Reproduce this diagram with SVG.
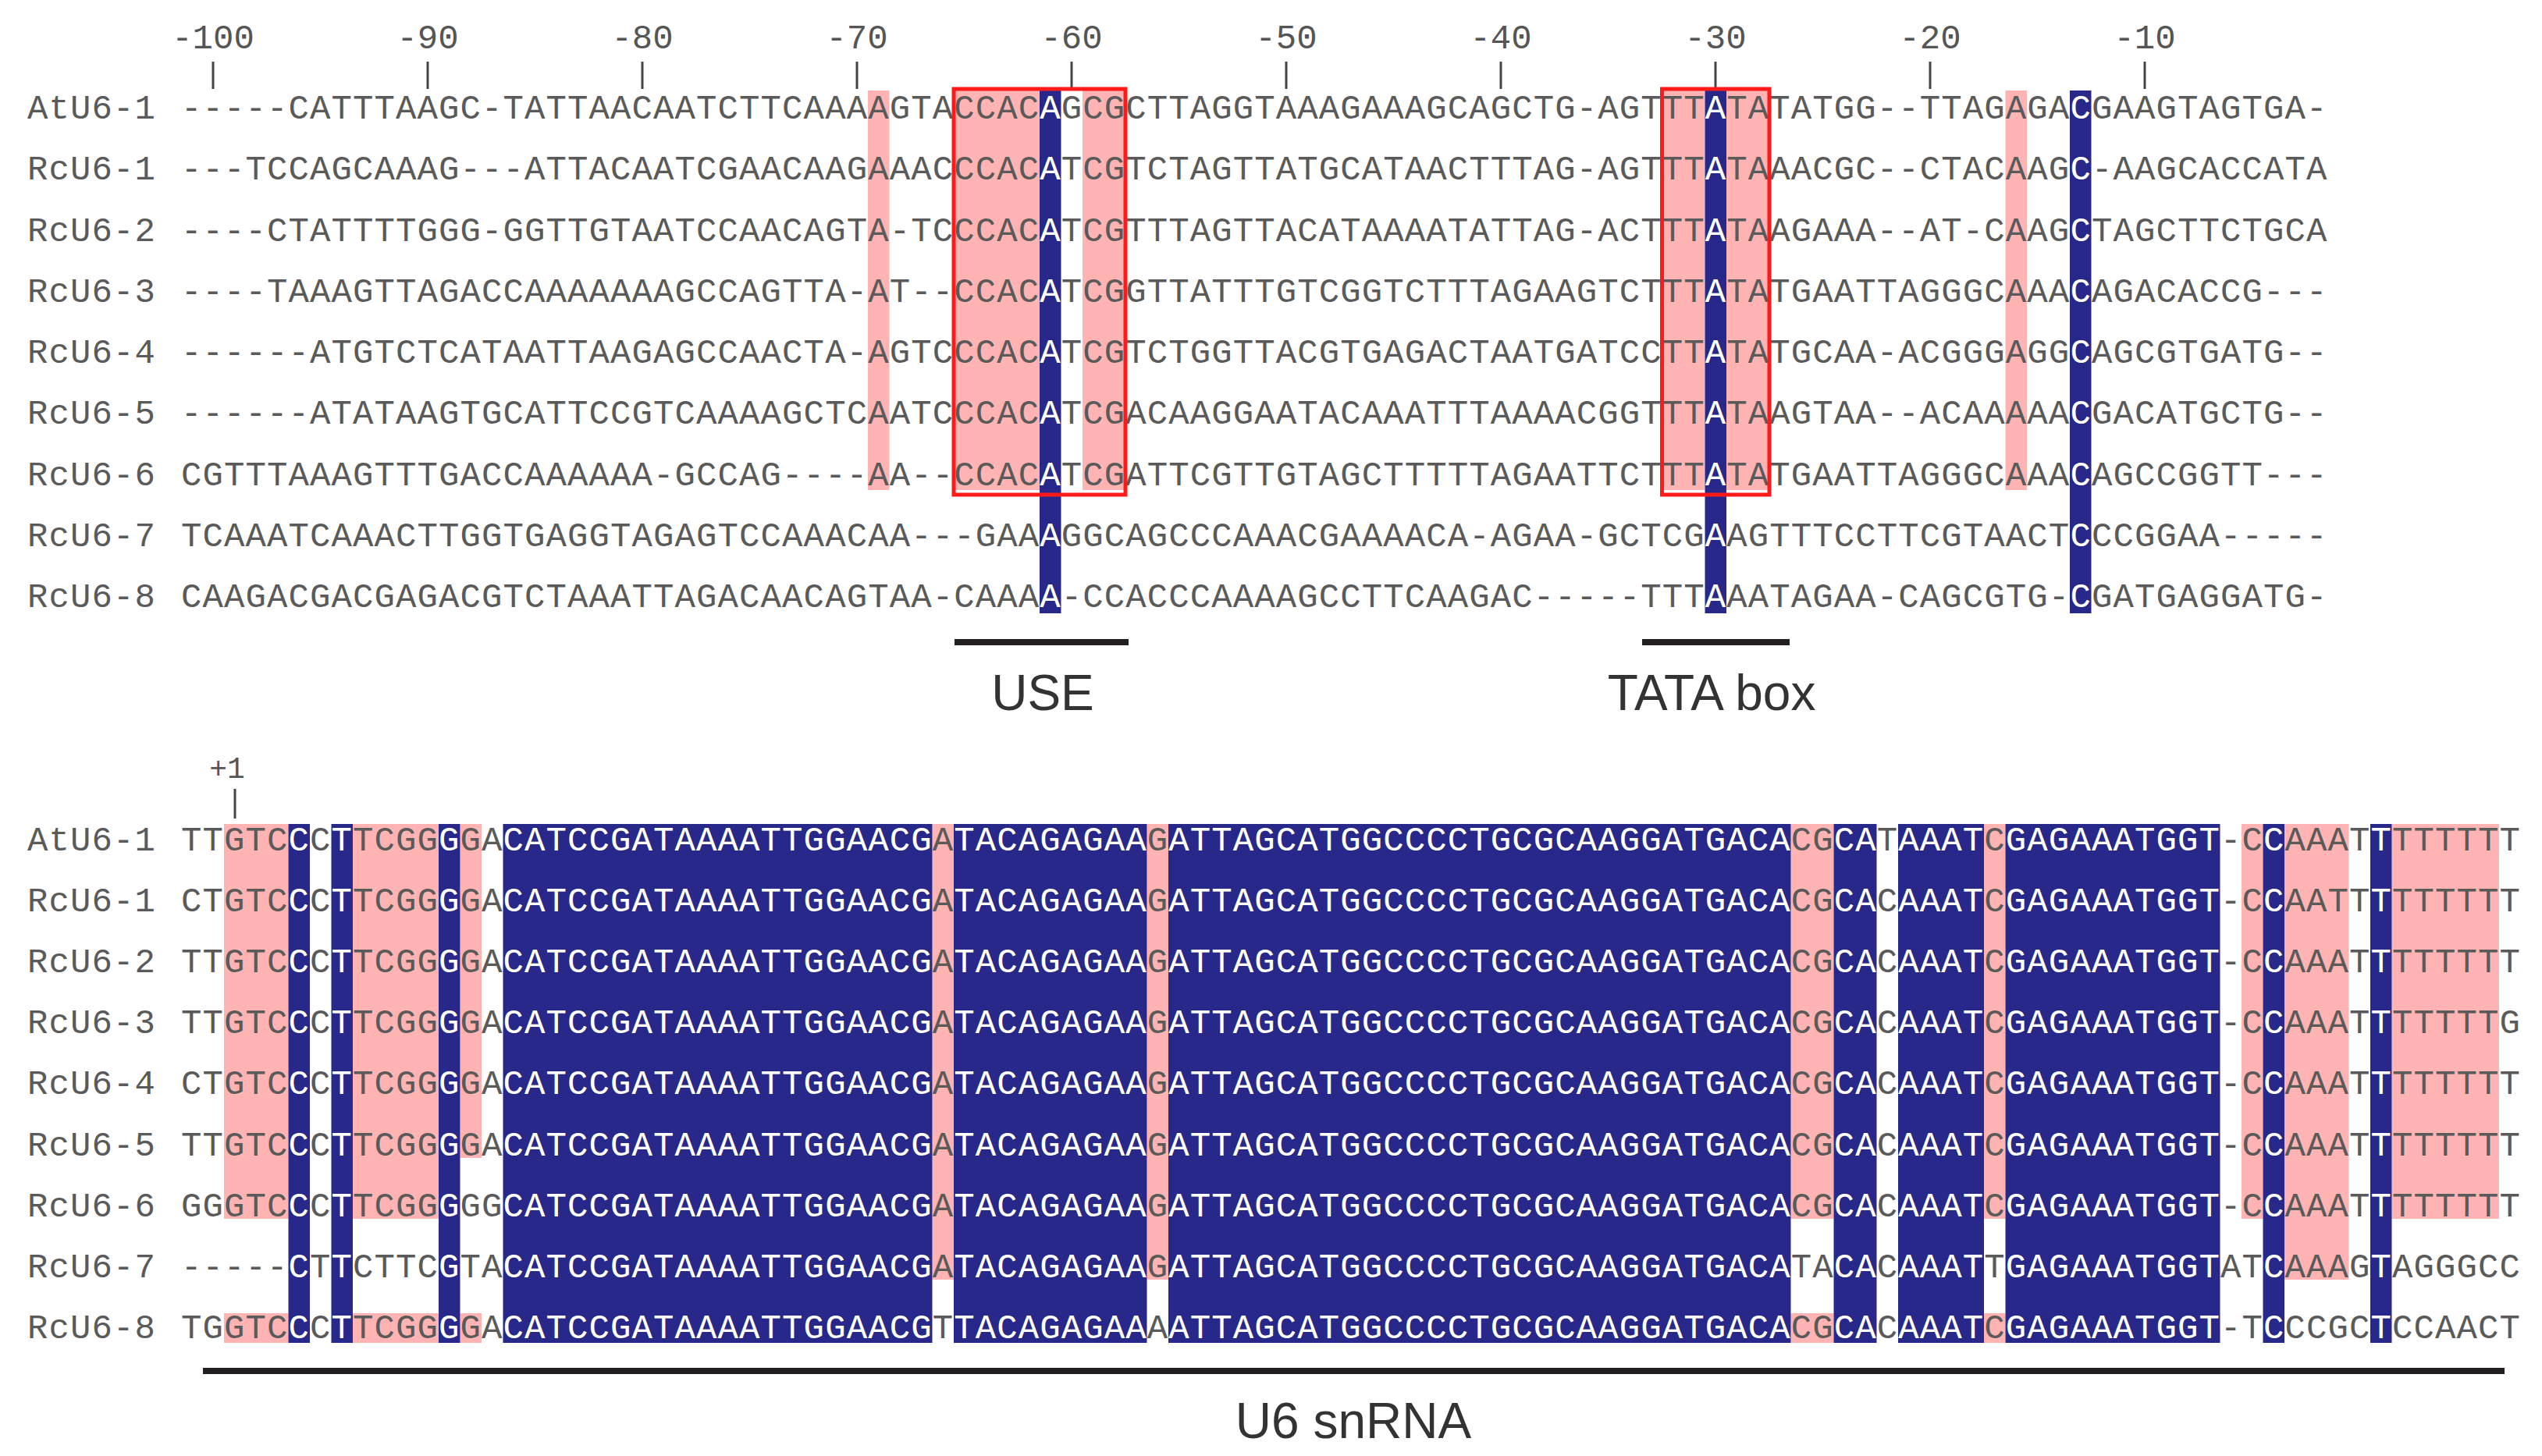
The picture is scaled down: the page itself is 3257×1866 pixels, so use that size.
<svg xmlns="http://www.w3.org/2000/svg" xmlns:xlink="http://www.w3.org/1999/xlink" width="3257" height="1866" viewBox="0 0 3257 1866">
<style>
.s{font-family:"Liberation Mono","DejaVu Sans Mono",monospace;font-size:44px;letter-spacing:1.1px}
.n{font-family:"Liberation Mono","DejaVu Sans Mono",monospace;font-size:44px;letter-spacing:1.1px}
.t{font-family:"Liberation Mono","DejaVu Sans Mono",monospace;font-size:44px;fill:#555;text-anchor:middle}
.lab{font-family:"Liberation Sans",Arial,sans-serif;font-size:64px;fill:#333;text-anchor:middle}
.pk{fill:#ffb3b3}
.tick{stroke:#444;stroke-width:3}
.bar{stroke:#231f20;stroke-width:8}
.box{fill:none;stroke:#ff1a1a;stroke-width:5}
</style>
<defs>
<clipPath id="cbTop">
<rect x="1332" y="116" width="27.5" height="670"/>
<rect x="2184.5" y="116" width="27.5" height="670"/>
<rect x="2652" y="116" width="27.5" height="670"/>
</clipPath>
<clipPath id="cbBot">
<rect x="369.5" y="1056" width="27.5" height="665"/>
<rect x="424.5" y="1056" width="27.5" height="665"/>
<rect x="562" y="1056" width="27.5" height="665"/>
<rect x="644.5" y="1056" width="550" height="665"/>
<rect x="1222" y="1056" width="247.5" height="665"/>
<rect x="1497" y="1056" width="797.5" height="665"/>
<rect x="2349.5" y="1056" width="55" height="665"/>
<rect x="2432" y="1056" width="110" height="665"/>
<rect x="2569.5" y="1056" width="275" height="665"/>
<rect x="2899.5" y="1056" width="27.5" height="665"/>
<rect x="3037" y="1056" width="27.5" height="665"/>
</clipPath>
</defs>
<rect width="3257" height="1866" fill="#fff"/>

<g id="scale-top">
<text class="t" x="273" y="62">-100</text><line class="tick" x1="273" y1="79" x2="273" y2="114"/>
<text class="t" x="548" y="62">-90</text><line class="tick" x1="548" y1="79" x2="548" y2="114"/>
<text class="t" x="823" y="62">-80</text><line class="tick" x1="823" y1="79" x2="823" y2="114"/>
<text class="t" x="1098" y="62">-70</text><line class="tick" x1="1098" y1="79" x2="1098" y2="114"/>
<text class="t" x="1373" y="62">-60</text><line class="tick" x1="1373" y1="79" x2="1373" y2="114"/>
<text class="t" x="1648" y="62">-50</text><line class="tick" x1="1648" y1="79" x2="1648" y2="114"/>
<text class="t" x="1923" y="62">-40</text><line class="tick" x1="1923" y1="79" x2="1923" y2="114"/>
<text class="t" x="2198" y="62">-30</text><line class="tick" x1="2198" y1="79" x2="2198" y2="114"/>
<text class="t" x="2473" y="62">-20</text><line class="tick" x1="2473" y1="79" x2="2473" y2="114"/>
<text class="t" x="2748" y="62">-10</text><line class="tick" x1="2748" y1="79" x2="2748" y2="114"/>
</g>

<g id="highlights-top">
<rect class="pk" x="1112" y="116" width="27.5" height="512"/>
<rect class="pk" x="1222" y="116" width="110" height="512"/>
<rect class="pk" x="1387" y="116" width="55" height="512"/>
<rect class="pk" x="2129.5" y="116" width="55" height="512"/>
<rect class="pk" x="2212" y="116" width="55" height="512"/>
<rect class="pk" x="2569.5" y="116" width="27.5" height="512"/>
<rect x="0" y="0" width="3257" height="900" fill="#28288a" clip-path="url(#cbTop)"/>
</g>

<g fill="#5a5a5a">
<g id="seqs-top">
<g id="top-AtU6-1"><text class="n" x="35" y="152">AtU6-1</text><text class="s" x="232" y="152">-----CATTTAAGC-TATTAACAATCTTCAAAAGTACCACAGCGCTTAGGTAAAGAAAGCAGCTG-AGTTTATATATGG--TTAGAGACGAAGTAGTGA-</text></g>
<g id="top-RcU6-1"><text class="n" x="35" y="230">RcU6-1</text><text class="s" x="232" y="230">---TCCAGCAAAG---ATTACAATCGAACAAGAAACCCACATCGTCTAGTTATGCATAACTTTAG-AGTTTATAAACGC--CTACAAGC-AAGCACCATA</text></g>
<g id="top-RcU6-2"><text class="n" x="35" y="308.5">RcU6-2</text><text class="s" x="232" y="308.5">----CTATTTTGGG-GGTTGTAATCCAACAGTA-TCCCACATCGTTTAGTTACATAAAATATTAG-ACTTTATAAGAAA--AT-CAAGCTAGCTTCTGCA</text></g>
<g id="top-RcU6-3"><text class="n" x="35" y="387">RcU6-3</text><text class="s" x="232" y="387">----TAAAGTTAGACCAAAAAAAGCCAGTTA-AT--CCACATCGGTTATTTGTCGGTCTTTAGAAGTCTTTATATGAATTAGGGCAAACAGACACCG---</text></g>
<g id="top-RcU6-4"><text class="n" x="35" y="465">RcU6-4</text><text class="s" x="232" y="465">------ATGTCTCATAATTAAGAGCCAACTA-AGTCCCACATCGTCTGGTTACGTGAGACTAATGATCCTTATATGCAA-ACGGGAGGCAGCGTGATG--</text></g>
<g id="top-RcU6-5"><text class="n" x="35" y="543">RcU6-5</text><text class="s" x="232" y="543">------ATATAAGTGCATTCCGTCAAAAGCTCAATCCCACATCGACAAGGAATACAAATTTAAAACGGTTTATAAGTAA--ACAAAAACGACATGCTG--</text></g>
<g id="top-RcU6-6"><text class="n" x="35" y="621.5">RcU6-6</text><text class="s" x="232" y="621.5">CGTTTAAAGTTTGACCAAAAAA-GCCAG----AA--CCACATCGATTCGTTGTAGCTTTTTAGAATTCTTTATATGAATTAGGGCAAACAGCCGGTT---</text></g>
<g id="top-RcU6-7"><text class="n" x="35" y="700">RcU6-7</text><text class="s" x="232" y="700">TCAAATCAAACTTGGTGAGGTAGAGTCCAAACAA---GAAAGGCAGCCCAAACGAAAACA-AGAA-GCTCGAAGTTTCCTTCGTAACTCCCGGAA-----</text></g>
<g id="top-RcU6-8"><text class="n" x="35" y="778">RcU6-8</text><text class="s" x="232" y="778">CAAGACGACGAGACGTCTAAATTAGACAACAGTAA-CAAAA-CCACCCAAAAGCCTTCAAGAC-----TTTAAATAGAA-CAGCGTG-CGATGAGGATG-</text></g>
</g>
</g>
<use xlink:href="#seqs-top" href="#seqs-top" fill="#fff" clip-path="url(#cbTop)"/>

<g id="motifs">
<rect class="box" x="1222" y="114" width="220" height="520"/>
<rect class="box" x="2129.5" y="114" width="137.5" height="520"/>
<line class="bar" x1="1223" y1="823" x2="1446" y2="823"/>
<text class="lab" x="1336" y="910">USE</text>
<line class="bar" x1="2104" y1="823" x2="2293" y2="823"/>
<text class="lab" x="2193" y="910">TATA box</text>
</g>

<g id="scale-bottom">
<text class="t" x="291" y="997" style="font-size:38px">+1</text>
<line class="tick" x1="301" y1="1011" x2="301" y2="1049"/>
</g>

<g id="highlights-bottom">
<rect class="pk" x="287" y="1056" width="82.5" height="506"/><rect class="pk" x="287" y="1683" width="82.5" height="38"/>
<rect class="pk" x="452" y="1056" width="110" height="506"/><rect class="pk" x="452" y="1683" width="110" height="38"/>
<rect class="pk" x="589.5" y="1056" width="27.5" height="428"/><rect class="pk" x="589.5" y="1683" width="27.5" height="38"/>
<rect class="pk" x="1194.5" y="1056" width="27.5" height="584"/>
<rect class="pk" x="1469.5" y="1056" width="27.5" height="584"/>
<rect class="pk" x="2294.5" y="1056" width="55" height="506"/><rect class="pk" x="2294.5" y="1683" width="55" height="38"/>
<rect class="pk" x="2542" y="1056" width="27.5" height="506"/><rect class="pk" x="2542" y="1683" width="27.5" height="38"/>
<rect class="pk" x="2872" y="1056" width="27.5" height="506"/>
<rect class="pk" x="2927" y="1056" width="82.5" height="584"/>
<rect class="pk" x="3064.5" y="1056" width="137.5" height="506"/>
<rect x="0" y="1000" width="3257" height="800" fill="#28288a" clip-path="url(#cbBot)"/>
</g>

<g fill="#5a5a5a">
<g id="seqs-bottom">
<g id="bot-AtU6-1"><text class="n" x="35" y="1090">AtU6-1</text><text class="s" x="232" y="1090">TTGTCCCTTCGGGGACATCCGATAAAATTGGAACGATACAGAGAAGATTAGCATGGCCCCTGCGCAAGGATGACACGCATAAATCGAGAAATGGT-CCAAATTTTTTTT</text></g>
<g id="bot-RcU6-1"><text class="n" x="35" y="1168">RcU6-1</text><text class="s" x="232" y="1168">CTGTCCCTTCGGGGACATCCGATAAAATTGGAACGATACAGAGAAGATTAGCATGGCCCCTGCGCAAGGATGACACGCACAAATCGAGAAATGGT-CCAATTTTTTTTT</text></g>
<g id="bot-RcU6-2"><text class="n" x="35" y="1246">RcU6-2</text><text class="s" x="232" y="1246">TTGTCCCTTCGGGGACATCCGATAAAATTGGAACGATACAGAGAAGATTAGCATGGCCCCTGCGCAAGGATGACACGCACAAATCGAGAAATGGT-CCAAATTTTTTTT</text></g>
<g id="bot-RcU6-3"><text class="n" x="35" y="1324">RcU6-3</text><text class="s" x="232" y="1324">TTGTCCCTTCGGGGACATCCGATAAAATTGGAACGATACAGAGAAGATTAGCATGGCCCCTGCGCAAGGATGACACGCACAAATCGAGAAATGGT-CCAAATTTTTTTG</text></g>
<g id="bot-RcU6-4"><text class="n" x="35" y="1402">RcU6-4</text><text class="s" x="232" y="1402">CTGTCCCTTCGGGGACATCCGATAAAATTGGAACGATACAGAGAAGATTAGCATGGCCCCTGCGCAAGGATGACACGCACAAATCGAGAAATGGT-CCAAATTTTTTTT</text></g>
<g id="bot-RcU6-5"><text class="n" x="35" y="1481">RcU6-5</text><text class="s" x="232" y="1481">TTGTCCCTTCGGGGACATCCGATAAAATTGGAACGATACAGAGAAGATTAGCATGGCCCCTGCGCAAGGATGACACGCACAAATCGAGAAATGGT-CCAAATTTTTTTT</text></g>
<g id="bot-RcU6-6"><text class="n" x="35" y="1559">RcU6-6</text><text class="s" x="232" y="1559">GGGTCCCTTCGGGGGCATCCGATAAAATTGGAACGATACAGAGAAGATTAGCATGGCCCCTGCGCAAGGATGACACGCACAAATCGAGAAATGGT-CCAAATTTTTTTT</text></g>
<g id="bot-RcU6-7"><text class="n" x="35" y="1637">RcU6-7</text><text class="s" x="232" y="1637">-----CTTCTTCGTACATCCGATAAAATTGGAACGATACAGAGAAGATTAGCATGGCCCCTGCGCAAGGATGACATACACAAATTGAGAAATGGTATCAAAGTAGGGCC</text></g>
<g id="bot-RcU6-8"><text class="n" x="35" y="1715">RcU6-8</text><text class="s" x="232" y="1715">TGGTCCCTTCGGGGACATCCGATAAAATTGGAACGTTACAGAGAAAATTAGCATGGCCCCTGCGCAAGGATGACACGCACAAATCGAGAAATGGT-TCCCGCTCCAACT</text></g>
</g>
</g>
<use xlink:href="#seqs-bottom" href="#seqs-bottom" fill="#fff" clip-path="url(#cbBot)"/>

<g id="snrna">
<line class="bar" x1="260" y1="1757" x2="3209" y2="1757"/>
<text class="lab" x="1734" y="1843">U6 snRNA</text>
</g>
</svg>
